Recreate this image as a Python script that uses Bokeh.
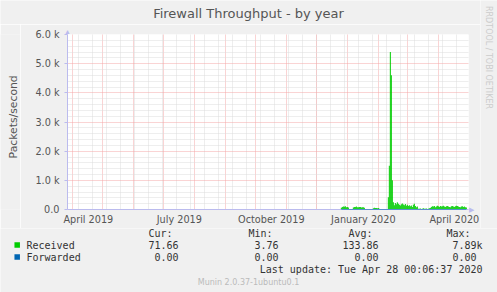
from datetime import datetime, timedelta

from bokeh.plotting import figure
from bokeh.layouts import column, row
from bokeh.models import Range1d, FixedTicker, LinearAxis, ColumnDataSource
from bokeh.core.properties import value
from bokeh.embed import file_html
from bokeh.resources import INLINE

# ---------------- data ----------------
TITLE = "Firewall Throughput - by year"
Y_LABEL = "Packets/second"
Y_TICKS = [0, 1000, 2000, 3000, 4000, 5000, 6000]
Y_TICK_LABELS = ["0.0", "1.0 k", "2.0 k", "3.0 k", "4.0 k", "5.0 k", "6.0 k"]
Y_MINOR = [v for v in range(0, 6001, 200) if v % 1000]
X_LABEL_MONTHS = [(2019, 4), (2019, 7), (2019, 10), (2020, 1), (2020, 4)]
X_TICK_LABELS = ["April 2019", "July 2019", "October 2019", "January 2020", "April 2020"]

DATA_START = datetime(2019, 12, 25)
# daily averages, packets/second
RECEIVED = [
    60, 90, 100, 95, 110, 80, 90, 70,
    10, 8, 12, 9,
    70, 90, 85, 100, 80, 75, 90, 85, 70, 80, 75, 60,
    8, 6, 5, 7, 10, 6, 5, 8,
    40, 60, 55, 50, 45, 50, 30,
    5, 4, 6, 5, 8, 6, 5, 10,
    420, 1500, 5400, 4600, 1000, 250,
    150, 220, 180, 250, 200, 160, 140, 180, 210, 170, 150, 190,
    130, 160, 120, 150, 110, 140, 90, 160, 200, 120, 80, 100,
    30, 25, 35, 20, 30, 40, 25, 30, 35, 20, 30, 40, 50,
    90, 110, 100, 120, 80, 100, 130, 110, 90, 120, 100, 110,
    130, 100, 90, 110, 120, 100, 90, 80, 110, 120, 100, 90,
    110, 130, 120, 100, 90, 80, 100, 110, 90, 100, 80, 72,
]
FORWARDED = [
    0, 0, 0, 0, 0, 0, 0, 0, 0, 0, 0, 0, 0, 0, 0, 0, 0, 0, 0, 0, 0, 0, 0, 0,
    0, 0, 0, 0, 0, 0, 0, 0, 0, 0, 0, 0, 0, 0, 0, 0, 0, 0, 0, 0, 0, 0, 0, 0,
    0, 0, 0, 0, 0, 0, 0, 0, 0, 0, 0, 0, 0, 0, 0, 0, 0, 0, 0, 0, 0, 0, 0, 0,
    0, 0, 0, 0, 0, 0, 0, 0, 0, 0, 0, 0, 0, 0, 0, 0, 0, 0, 0, 0, 0, 0, 0, 0,
    0, 0, 0, 0, 0, 0, 0, 0, 0, 0, 0, 0, 0, 0, 0, 0, 0, 0, 0, 0, 0, 0, 0, 0,
    0, 0, 0, 0, 0, 0,
]
SERIES = ["Received", "Forwarded"]
SERIES_COLORS = ["#00CC00", "#0066B3"]
STAT_HEADERS = ["Cur:", "Min:", "Avg:", "Max:"]
RECEIVED_STATS = ["71.66", "3.76", "133.86", "7.89k"]
FORWARDED_STATS = ["0.00", "0.00", "0.00", "0.00"]
LAST_UPDATE = "Last update: Tue Apr 28 00:06:37 2020"
FOOTER = "Munin 2.0.37-1ubuntu0.1"
WATERMARK = "RRDTOOL / TOBI OETIKER"

# ---------------- layout constants (pixels) ----------------
W, H = 497, 292
FX0, FX1, FY0, FY1 = 67, 468, 33, 209      # plot frame in page pixels
TOPH = 24                                    # title strip height
LW = 20                                      # y-label strip width
RX = 480                                     # watermark strip start
BOT = 228                                    # legend area start
BG = "#F0F0F0"
AXIS_COLOR = "#BBBBEE"
FONT = "DejaVu Sans"
MONO = "DejaVu Sans Mono"
TEXT_COLOR = "#555555"
LEG_COLOR = "#333333"
DAY = 86400000.0
EPOCH = datetime(1970, 1, 1)


def ms(d):
    return (d - EPOCH).total_seconds() * 1000.0


T0 = ms(datetime(2019, 3, 26, 16, 0))
T1 = T0 + 401 * DAY
YMAX = 6000.0


def text_fig(w, h):
    f = figure(width=w, height=h, x_range=Range1d(0, w), y_range=Range1d(h, 0),
               output_backend="svg", toolbar_location=None,
               x_axis_location=None, y_axis_location=None, min_border=0)
    f.title.visible = False
    f.grid.visible = False
    f.outline_line_color = None
    f.background_fill_color = BG
    f.border_fill_color = BG
    return f


def put(f, x, y, text, size, color, font=FONT, align="left", angle=0.0, ox=0, oy=0):
    f.text(x=[x - ox], y=[y - oy], text=[text], text_font=value(font),
           text_font_size=size, text_color=color, text_align=align,
           text_baseline="middle", angle=angle)


# ---------------- main plot ----------------
MW = RX - LW
MH = BOT - TOPH
p = figure(width=MW, height=MH, x_axis_type="datetime",
           x_range=Range1d(T0, T1), y_range=Range1d(0, YMAX),
           output_backend="svg", toolbar_location=None,
           min_border_left=FX0 - LW, min_border_right=RX - FX1,
           min_border_top=FY0 - TOPH, min_border_bottom=BOT - FY1)
p.title.visible = False
p.border_fill_color = BG
p.background_fill_color = "#FFFFFF"
p.outline_line_color = None

p.yaxis.ticker = FixedTicker(ticks=Y_TICKS, minor_ticks=Y_MINOR)
p.yaxis.major_label_overrides = {t: l for t, l in zip(Y_TICKS, Y_TICK_LABELS)}
p.yaxis.axis_line_color = AXIS_COLOR
p.yaxis.major_tick_line_color = AXIS_COLOR
p.yaxis.major_tick_out = 3
p.yaxis.major_tick_in = 0
p.yaxis.minor_tick_line_color = None
p.yaxis.major_label_standoff = 4
p.yaxis.major_label_text_font = FONT
p.yaxis.major_label_text_font_size = "9.7px"
p.yaxis.major_label_text_color = TEXT_COLOR

label_ticks = [int(ms(datetime(y, m, 16, 12))) for y, m in X_LABEL_MONTHS]
p.xaxis.ticker = FixedTicker(ticks=label_ticks)
p.xaxis.major_label_overrides = {t: l for t, l in zip(label_ticks, X_TICK_LABELS)}
p.xaxis.axis_line_color = AXIS_COLOR
p.xaxis.major_tick_line_color = None
p.xaxis.minor_tick_line_color = None
p.xaxis.major_tick_out = 0
p.xaxis.major_tick_in = 0
p.xaxis.major_label_standoff = 4
p.xaxis.major_label_text_font = FONT
p.xaxis.major_label_text_font_size = "9.7px"
p.xaxis.major_label_text_color = TEXT_COLOR

# arrow heads at the ends of the axes (one-label axes)
ARROW_STYLE = dict(axis_line_color=None, major_tick_line_color=None,
                   minor_tick_line_color=None, major_tick_out=0, major_tick_in=0,
                   major_label_standoff=0, major_label_text_font_size="7px",
                   major_label_text_color=AXIS_COLOR)
p.add_layout(LinearAxis(ticker=FixedTicker(ticks=[0]),
                        major_label_overrides={0: "\u25B6"}, **ARROW_STYLE), "right")
T_ARROW = int(T0) + 1
p.add_layout(LinearAxis(ticker=FixedTicker(ticks=[T_ARROW]),
                        major_label_overrides={T_ARROW: "\u25B2"}, **ARROW_STYLE), "above")

month_starts = []
y, m = 2019, 4
while (y, m) <= (2020, 4):
    month_starts.append(ms(datetime(y, m, 1)))
    m += 1
    if m > 12:
        y, m = y + 1, 1
biweekly = []
d = datetime(2019, 4, 7)
while ms(d) < T1:
    biweekly.append(ms(d))
    d += timedelta(days=14)

MAJOR_GRID = "#F4A8A8"
MINOR_GRID = "#DCDCDC"
p.xgrid.ticker = FixedTicker(ticks=month_starts, minor_ticks=biweekly)
p.xgrid.grid_line_color = MAJOR_GRID
p.xgrid.grid_line_dash = "1 1"
p.xgrid.minor_grid_line_color = MINOR_GRID
p.xgrid.minor_grid_line_dash = "1 1"
p.ygrid.grid_line_color = MAJOR_GRID
p.ygrid.grid_line_dash = "1 1"
p.ygrid.minor_grid_line_color = MINOR_GRID
p.ygrid.minor_grid_line_dash = "1 1"

xs = [ms(DATA_START + timedelta(days=i, hours=12)) for i in range(len(RECEIVED))]
src = ColumnDataSource(dict(x=xs, rec=RECEIVED, fwd=FORWARDED))
p.vbar(x="x", top="rec", bottom=0, width=DAY, source=src,
       fill_color=SERIES_COLORS[0], line_color=None)
fl = p.line(x="x", y="fwd", source=src, line_color=SERIES_COLORS[1], line_width=1,
            line_alpha=0.6)
fl.level = "annotation"

# ---------------- surrounding text strips ----------------
top = text_fig(RX, TOPH)
put(top, 248, 13, TITLE, "13px", TEXT_COLOR, align="center")

left = text_fig(LW, MH)
put(left, 13, 120, Y_LABEL, "10.8px", TEXT_COLOR, align="center", angle=1.5708, oy=TOPH)

right = text_fig(W - RX, BOT)
put(right, 488, 57, WATERMARK, "8px", "#CCCCCC", align="center", angle=-1.5708, ox=RX)

bottom = text_fig(W, H - BOT)
COL_RIGHT = [178, 278, 378, 476]
ROWS_Y = [244.5, 256.5]
for j, h in enumerate(STAT_HEADERS):
    put(bottom, COL_RIGHT[j] - 6, 233, h, "10px", LEG_COLOR, font=MONO, align="right", oy=BOT)
for r, (name, color, stats) in enumerate(zip(SERIES, SERIES_COLORS,
                                             [RECEIVED_STATS, FORWARDED_STATS])):
    bottom.rect(x=[16.7], y=[ROWS_Y[r] - BOT], width=5.5, height=5.5,
                fill_color=color, line_color=None)
    put(bottom, 26, ROWS_Y[r], name, "10px", LEG_COLOR, font=MONO, oy=BOT)
    for j, s in enumerate(stats):
        extra = 6 if s[-1].isalpha() else 0
        put(bottom, COL_RIGHT[j] + extra, ROWS_Y[r], s, "10px", LEG_COLOR,
            font=MONO, align="right", oy=BOT)
put(bottom, 482, 269, LAST_UPDATE, "10px", LEG_COLOR, font=MONO, align="right", oy=BOT)
put(bottom, 248, 282, FOOTER, "8px", "#BBBBBB", align="center", oy=BOT)

layout = column(row(column(top, row(left, p)), right), bottom)
open("out.html", "w").write(file_html(layout, INLINE))
